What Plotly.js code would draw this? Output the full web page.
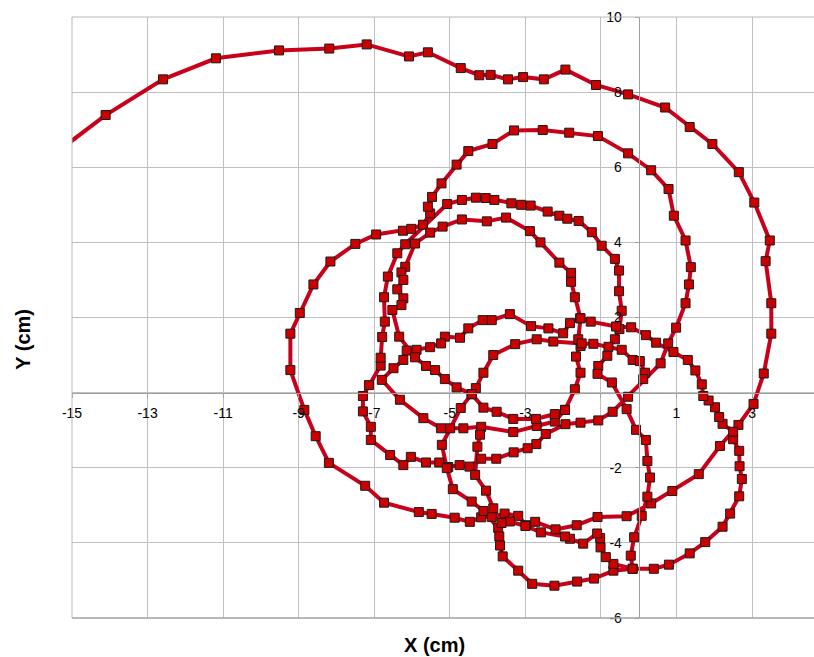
<!DOCTYPE html>
<html>
<head>
<meta charset="utf-8">
<script src="https://cdn.plot.ly/plotly-3.0.1.min.js"></script>
<style>
  html, body { margin: 0; padding: 0; background: #ffffff; }
  #chart { width: 814px; height: 657px; }
</style>
</head>
<body>
<div id="chart"></div>
<script>
// Tracked position (cm), split into the successive loops of the path.
const loop1X = [-15.6,-14.11,-12.59,-11.19,-9.52,-8.19,-7.20,-6.08,-5.58,-4.71,-4.22,-3.92,-3.46,-3.06,-2.51,-1.94,-1.13,-0.28,0.70,1.35,1.95,2.65,3.06,3.47,3.36,3.51,3.51,3.31,3.04,2.64,2.15,1.59,0.89,0.33,-0.32,-1.09,-1.64,-2.20,-2.74,-2.98,-3.19,-3.55,-3.89,-4.17,-4.47,-4.87,-5.48,-5.82,-6.74,-7.24,-8.20,-8.55,-8.85,-9.22,-9.22,-8.97,-8.61,-8.16,-7.50,-6.95,-6.24,-6.02,-5.71];
const loop1Y = [6.25,7.39,8.34,8.90,9.11,9.16,9.27,8.95,9.06,8.64,8.45,8.46,8.34,8.40,8.34,8.60,8.19,7.94,7.59,7.07,6.62,5.87,5.06,4.05,3.50,2.38,1.57,0.51,-0.30,-0.86,-1.42,-2.17,-2.62,-2.95,-3.29,-3.31,-3.53,-3.64,-3.44,-3.53,-3.28,-3.22,-3.31,-3.32,-3.44,-3.33,-3.23,-3.18,-2.93,-2.48,-1.87,-1.16,-0.46,0.60,1.57,2.12,2.88,3.49,3.96,4.21,4.31,4.36,4.47];

const loop2X = [-5.52,-5.58,-5.47,-5.22,-4.82,-4.51,-3.87,-3.30,-2.54,-1.84,-1.08,-0.28,0.33,0.79,0.93,1.24,1.38,1.33,1.24,0.99,0.78,0.58,-0.28,-0.69,-1.07,-1.54,-1.94,-2.46,-2.71,-2.94,-3.31,-3.77,-4.17,-4.48,-4.74,-5.04,-5.28,-5.63,-6.03,-6.23,-6.58,-7.09,-7.09,-7.30,-7.30,-7.14,-6.83,-6.83,-6.79,-6.72,-6.74,-6.64,-6.39,-6.18];
const loop2Y = [4.77,4.95,5.21,5.57,6.07,6.43,6.62,6.98,6.99,6.92,6.83,6.37,5.92,5.42,4.71,4.05,3.34,2.88,2.38,1.73,1.31,0.78,-0.11,-0.51,-0.74,-0.80,-0.84,-1.10,-1.37,-1.48,-1.59,-1.76,-1.76,-1.97,-1.93,-1.98,-1.86,-1.86,-1.71,-1.93,-1.66,-1.26,-0.91,-0.50,-0.09,0.20,0.72,0.93,1.48,1.89,2.54,3.09,3.71,3.95];

const loop3X = [-5.07,-4.68,-4.31,-4.05,-3.82,-3.37,-3.11,-2.86,-2.41,-2.10,-1.89,-1.59,-1.24,-0.98,-0.63,-0.52,-0.52,-0.45,-0.51,-0.63,-0.80,-0.83,-1.07,-1.09,-0.71,-0.32,-0.07,0.19,0.23,0.30,0.23,0.08,-0.12,-0.21,-0.16];
const loop3Y = [5.02,5.13,5.19,5.18,5.13,5.04,5.00,4.98,4.82,4.71,4.63,4.57,4.27,3.91,3.56,3.25,2.70,2.18,1.69,1.42,1.22,0.98,0.71,0.50,0.27,-0.44,-0.99,-1.26,-1.82,-2.26,-2.77,-3.28,-3.85,-4.34,-4.69];

const loop4X = [0.40,0.80,1.35,1.76,2.22,2.42,2.66,2.73,2.67,2.66,2.50,2.50,2.22,2.13,2.02,1.85,1.71,1.67,1.50,1.30,0.92,0.46,0.19,-0.20,-0.60,-1.27,-1.55,-1.82,-2.00,-2.39,-2.85,-3.41,-3.89,-4.13,-4.51,-4.73,-5.13,-5.23,-5.52,-5.88,-6.14];
const loop4Y = [-4.69,-4.58,-4.28,-3.98,-3.57,-3.22,-2.76,-2.30,-1.96,-1.55,-1.24,-1.04,-0.83,-0.65,-0.39,-0.21,-0.09,0.22,0.59,0.87,1.08,1.33,1.53,1.74,1.76,1.89,1.98,1.85,1.58,1.71,1.77,2.09,1.93,1.93,1.71,1.46,1.49,1.31,1.21,1.14,1.12];

const loop5X = [-6.23,-6.49,-6.80,-6.32,-5.70,-5.23,-4.99,-4.64,-4.17,-3.32,-2.70,-2.22,-1.95];
const loop5Y = [0.87,0.65,0.34,-0.19,-0.68,-0.95,-0.95,-0.95,-0.91,-1.05,-0.89,-0.77,-0.46];

const loop6X = [-1.69,-1.54,-1.66,-1.54,-1.60,-1.54,-1.69,-1.79,-1.79,-2.10,-2.60,-2.88,-3.51,-4.02,-4.68,-5.19,-5.52,-5.92,-6.18,-6.28,-6.23,-6.39,-6.23,-6.28,-6.52,-6.34,-5.92,-5.63,-5.39,-5.13,-4.82,-4.42,-4.31,-4.11,-3.85,-3.27,-2.70,-2.26,-1.51,-1.20,-0.45,-0.16,0.03,0.17,0.12];
const loop6Y = [0.09,0.53,0.96,1.24,1.42,1.98,2.54,2.95,3.19,3.46,4.00,4.30,4.66,4.56,4.61,4.42,4.26,3.97,3.35,3.20,3.00,2.75,2.51,2.33,2.20,1.49,0.94,0.71,0.60,0.36,0.14,-0.04,0.12,0.53,1.00,1.29,1.42,1.36,1.31,1.30,1.14,0.87,0.84,0.53,0.36];

const loop7X = [-4.42,-4.11,-3.76,-3.32,-2.72,-2.22,-1.95];
const loop7Y = [-0.04,-0.40,-0.51,-0.70,-0.70,-0.57,-0.46];

const loop8X = [-4.42,-4.71,-5.21,-5.08,-4.92,-4.42,-4.11,-3.72,-3.69,-3.67,-3.60,-3.19,-2.82,-2.23,-1.63,-1.18,-0.67,-0.16,-0.67,-0.87,-1.01,-1.02,-1.10,-1.47,-1.82,-1.95,-2.59,-3.00,-3.41,-3.63,-3.85,-4.04,-4.33,-4.27,-4.20];
const loop8Y = [-0.04,-0.41,-1.39,-2.01,-2.57,-2.90,-3.15,-3.60,-3.83,-4.07,-4.36,-4.74,-5.09,-5.14,-5.03,-4.95,-4.74,-4.69,-4.56,-4.38,-4.12,-3.87,-3.75,-4.02,-3.89,-3.83,-3.72,-3.55,-3.43,-3.47,-3.08,-2.61,-2.19,-1.44,-1.12];

// Assemble the path: continuous runs, separated by gaps
const runs = [
  [loop1X.concat(loop2X, loop3X, loop4X, loop5X, loop6X), loop1Y.concat(loop2Y, loop3Y, loop4Y, loop5Y, loop6Y)],
  [loop7X, loop7Y],
  [loop8X, loop8Y]
];
const pathX = [], pathY = [];
runs.forEach((r, i) => {
  if (i > 0) { pathX.push(null); pathY.push(null); }
  pathX.push(...r[0]); pathY.push(...r[1]);
});

// Axis ticks
const xTickVals = [-15,-13,-11,-9,-7,-5,-3,-1,1,3];
const xTickText = ['-15','-13','-11','-9','-7','-5','-3','','1','3'];
const yTickVals = [-6,-4,-2,0,2,4,6,8,10];
const yTickText = ['-6','-4','-2','','2','4','6','8','10'];

const xMin = -15, xMax = 4.64, yMin = -6, yMax = 10;
const gridColor = '#c0c0c0';
const font = 'Liberation Sans, Arial, sans-serif';

const trace = {
  x: pathX, y: pathY,
  type: 'scatter', mode: 'lines+markers', connectgaps: false,
  line: { color: '#c8001a', width: 4 },
  marker: { symbol: 'square', size: 9, color: '#cc0000', line: { color: '#1a1a1a', width: 1 } },
  hoverinfo: 'x+y'
};

const layout = {
  width: 814, height: 657,
  margin: { l: 72, r: 0, t: 17, b: 39 },
  paper_bgcolor: '#ffffff', plot_bgcolor: '#ffffff',
  showlegend: false,
  font: { family: font, size: 14, color: '#000' },
  xaxis: {
    range: [xMin, xMax], tickmode: 'array', tickvals: xTickVals, ticktext: xTickText,
    showgrid: true, gridcolor: gridColor, gridwidth: 1,
    zeroline: false, showline: true, linecolor: '#a0a0a0', linewidth: 1,
    anchor: 'free', position: (0 - yMin) / (yMax - yMin),
    ticks: 'outside', ticklen: 4, tickcolor: '#a0a0a0', ticklabelstandoff: 4,
    tickfont: { family: font, size: 14, color: '#000' }
  },
  yaxis: {
    range: [yMin, yMax], tickmode: 'array', tickvals: yTickVals, ticktext: yTickText,
    showgrid: true, gridcolor: gridColor, gridwidth: 1,
    zeroline: false, showline: true, linecolor: '#a0a0a0', linewidth: 1,
    anchor: 'free', position: (0 - xMin) / (xMax - xMin),
    ticks: 'outside', ticklen: 4, tickcolor: '#a0a0a0', ticklabelstandoff: 10,
    tickfont: { family: font, size: 14, color: '#000' }
  },
  shapes: [
    { type: 'line', xref: 'paper', yref: 'paper', x0: 0, x1: 0, y0: 0, y1: 1, line: { color: '#b8b8b8', width: 1 } },
    { type: 'line', xref: 'paper', yref: 'paper', x0: 0, x1: 1, y0: 1, y1: 1, line: { color: '#b8b8b8', width: 1 } },
    { type: 'line', xref: 'paper', yref: 'paper', x0: 0, x1: 1, y0: 0, y1: 0, line: { color: '#a0a0a0', width: 1.5 } }
  ],
  annotations: [
    { text: '<b>X (cm)</b>', xref: 'paper', yref: 'paper', x: 0.489, y: -0.045, xanchor: 'center', yanchor: 'middle',
      showarrow: false, font: { family: font, size: 20, color: '#000' } },
    { text: '<b>Y (cm)</b>', xref: 'paper', yref: 'paper', x: -0.066, y: 0.463, xanchor: 'center', yanchor: 'middle',
      textangle: -90, showarrow: false, font: { family: font, size: 20, color: '#000' } }
  ]
};

Plotly.newPlot('chart', [trace], layout, { displayModeBar: false, staticPlot: true });
</script>
</body>
</html>
